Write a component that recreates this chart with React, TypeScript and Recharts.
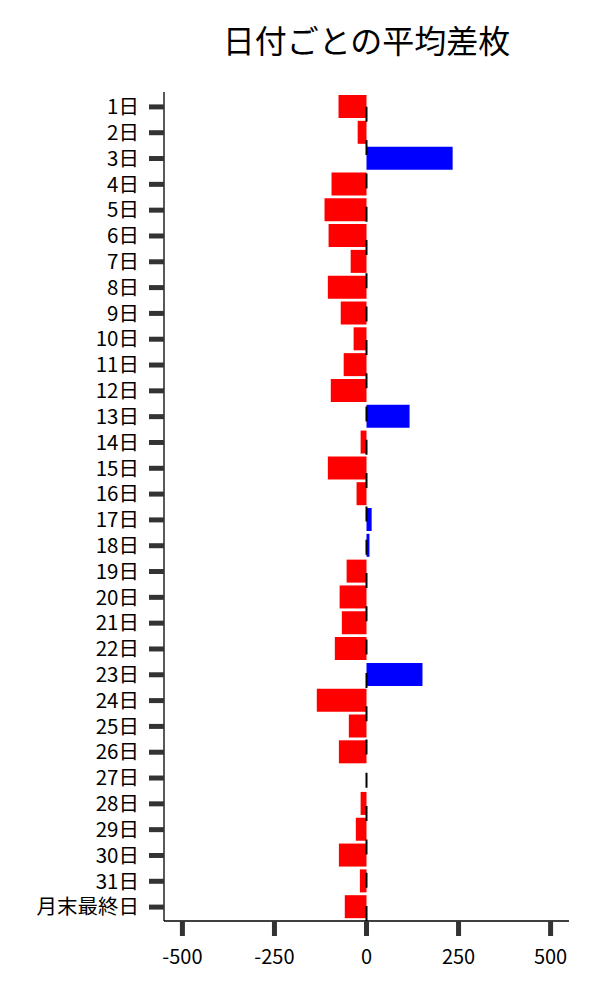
import { BarChart, Bar, XAxis, YAxis, Cell, ReferenceLine } from "recharts";

const days = [
  "1日", "2日", "3日", "4日", "5日", "6日", "7日", "8日", "9日", "10日",
  "11日", "12日", "13日", "14日", "15日", "16日", "17日", "18日", "19日", "20日",
  "21日", "22日", "23日", "24日", "25日", "26日", "27日", "28日", "29日", "30日",
  "31日", "月末最終日",
];

const avgDiff = [
  -76, -24, 234, -95, -114, -103, -43, -105, -70, -35,
  -62, -97, 117, -16, -105, -27, 14, 8, -54, -73,
  -67, -86, 152, -135, -48, -75, 0, -16, -29, -75,
  -18, -59,
];

const xTicks = [-500, -250, 0, 250, 500];

const data = days.map((d, i) => ({ name: d, value: avgDiff[i] }));

const font = "'Noto Sans CJK JP', 'Noto Sans', sans-serif";

export default function App() {
  return (
    <div style={{ position: "relative", width: 584, height: 984, fontFamily: font }}>
      <div
        style={{
          position: "absolute",
          left: 156,
          width: 405,
          top: 12,
          textAlign: "center",
          fontSize: 32,
          color: "#000",
          lineHeight: "38px",
        }}
      >
        日付ごとの平均差枚
      </div>
      <BarChart
        width={584}
        height={984}
        data={data}
        layout="vertical"
        margin={{ top: 84, right: 23, bottom: 21, left: 0 }}
        barSize={23}
      >
        <XAxis
          type="number"
          domain={[-550, 550]}
          ticks={xTicks}
          allowDataOverflow
          height={50}
          tickSize={15}
          tickMargin={14}
          axisLine={{ stroke: "#000", strokeWidth: 1.3 }}
          tickLine={{ stroke: "#333", strokeWidth: 5 }}
          tick={{ fill: "#000", fontSize: 20, fontFamily: font }}
        />
        <YAxis
          type="category"
          dataKey="name"
          width={156}
          interval={0}
          padding={{ top: 2, bottom: 1 }}
          tickSize={15}
          tickMargin={10}
          axisLine={{ stroke: "#000", strokeWidth: 1.3 }}
          tickLine={{ stroke: "#333", strokeWidth: 5 }}
          tick={{ fill: "#000", fontSize: 20.5, fontFamily: font }}
        />
        <Bar dataKey="value" isAnimationActive={false}>
          {data.map((d) => (
            <Cell key={d.name} fill={d.value >= 0 ? "#0000ff" : "#ff0000"} />
          ))}
        </Bar>
        <ReferenceLine
          x={0}
          stroke="#000"
          strokeWidth={2}
          strokeDasharray="15 18.3"
        />
      </BarChart>
    </div>
  );
}
